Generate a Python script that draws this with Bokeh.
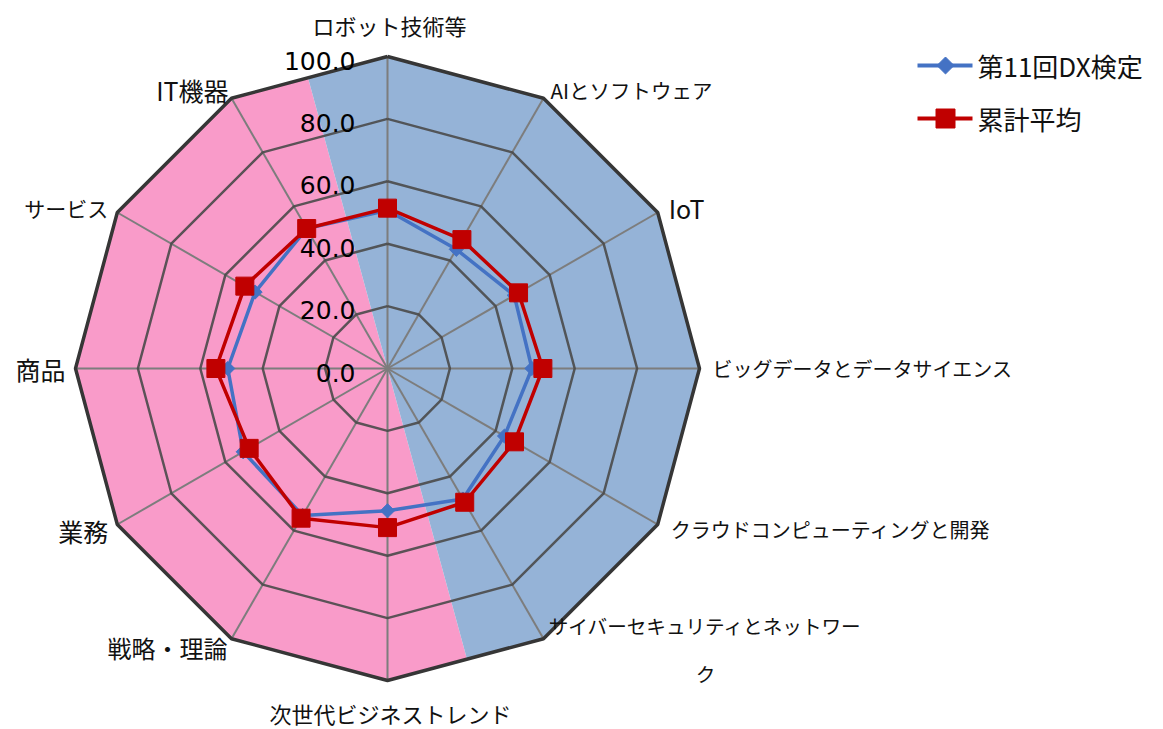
import math
from bokeh.plotting import figure
from bokeh.models import Range1d, ColumnDataSource
from bokeh.core.properties import value
from bokeh.embed import file_html
from bokeh.resources import INLINE

# ---------------- data ----------------
categories = ["ロボット技術等", "AIとソフトウェア", "IoT", "ビッグデータとデータサイエンス",
              "クラウドコンピューティングと開発", "サイバーセキュリティとネットワーク",
              "次世代ビジネストレンド", "戦略・理論", "業務", "商品", "サービス", "IT機器"]
series_names = ["第11回DX検定", "累計平均"]
dx11 = [50.7, 44.1, 46.9, 46.3, 43.3, 48.3, 45.6, 54.4, 53.4, 51.2, 49.0, 51.8]
cumulative_avg = [51.4, 47.7, 48.5, 49.8, 47.0, 49.5, 51.0, 55.4, 51.2, 55.0, 52.8, 51.8]
ticks = [0, 20, 40, 60, 80, 100]
tick_labels = ["0.0", "20.0", "40.0", "60.0", "80.0", "100.0"]

# ---------------- layout ----------------
W, H = 1163, 729
CX, CY = 387, 368          # pixel centre of radar
S = 3.12                   # pixels per data unit (radius 100 -> 312 px)
RMAX = 100
N = len(categories)

p = figure(width=W, height=H, output_backend="svg", toolbar_location=None,
           x_range=Range1d(-CX / S, (W - CX) / S), y_range=Range1d(-(H - CY) / S, CY / S),
           min_border=0, x_axis_location=None, y_axis_location=None)
p.grid.visible = False
p.outline_line_color = None
p.background_fill_color = "white"
p.border_fill_color = "white"


def ang(i):
    return math.pi / 2 - 2 * math.pi * i / N


def pt(i, r):
    a = ang(i)
    return r * math.cos(a), r * math.sin(a)


def px(xp, yp):
    return (xp - CX) / S, (CY - yp) / S


# ---------------- background split (pink / blue) ----------------
outer = [pt(i, RMAX) for i in range(N)]
split_deg = 15.3
d = (math.cos(math.radians(90 + split_deg)), math.sin(math.radians(90 + split_deg)))
nvec = (d[1], -d[0])


def clip(poly, n):
    out = []
    for k in range(len(poly)):
        a = poly[k]
        b = poly[(k + 1) % len(poly)]
        da = n[0] * a[0] + n[1] * a[1]
        db = n[0] * b[0] + n[1] * b[1]
        if da >= 0:
            out.append(a)
        if (da >= 0) != (db >= 0):
            t = da / (da - db)
            out.append((a[0] + t * (b[0] - a[0]), a[1] + t * (b[1] - a[1])))
    return out


blue_poly = clip(outer, nvec)
pink_poly = clip(outer, (-nvec[0], -nvec[1]))
p.patch([q[0] for q in pink_poly], [q[1] for q in pink_poly], fill_color="#F99BC9", line_color=None)
p.patch([q[0] for q in blue_poly], [q[1] for q in blue_poly], fill_color="#95B3D7", line_color=None)

# ---------------- grid ----------------
spoke_xs, spoke_ys = [], []
for i in range(N):
    x1, y1 = pt(i, RMAX)
    spoke_xs.append([0, x1])
    spoke_ys.append([0, y1])
p.multi_line(spoke_xs, spoke_ys, line_color="#7d7d7d", line_width=2)

ring_xs, ring_ys = [], []
for t in ticks[1:-1]:
    pts = [pt(i, t) for i in range(N)] + [pt(0, t)]
    ring_xs.append([q[0] for q in pts])
    ring_ys.append([q[1] for q in pts])
p.multi_line(ring_xs, ring_ys, line_color="#4a4a4a", line_width=2.5, line_alpha=0.9)
opts = [pt(i, RMAX) for i in range(N)] + [pt(0, RMAX)]
p.line([q[0] for q in opts], [q[1] for q in opts], line_color="#363636", line_width=3.5)

# tick labels
p.text(x=[0] * len(ticks), y=ticks, text=tick_labels, text_align="right", text_baseline="middle",
       x_offset=-32, y_offset=4, text_font=value("DejaVu Sans"), text_font_size="25px",
       text_color="#000000")

# ---------------- category labels ----------------
lab_x_off = [2, 7, 11, 13, 13, 162, 3, -4, -9, -10, -9, -3]
lab_y_off = [-32, -8, -5, 0, 5, 11, 32, 9, 6, 0, -5, -8]
lab_size = ["22px", "20.5px", "25px", "20px", "20px", "19.6px", "22px",
            "24px", "25px", "25px", "21px", "25px"]
lab_align = ["center", "left", "left", "left", "left", "center", "center",
             "right", "right", "right", "right", "right"]
lx, ly, lt, la, lxo, lyo, ls = [], [], [], [], [], [], []
for i, c in enumerate(categories):
    if i == 5:
        continue
    x0, y0 = pt(i, RMAX)
    lx.append(x0); ly.append(y0); lt.append(c); la.append(lab_align[i])
    lxo.append(lab_x_off[i]); lyo.append(lab_y_off[i]); ls.append(lab_size[i])
src_lab = ColumnDataSource(dict(x=lx, y=ly, text=lt, align=la, xo=lxo, yo=lyo, fs=ls))
p.text(x="x", y="y", text="text", text_align="align", text_baseline="middle",
       x_offset="xo", y_offset="yo", text_font_size="fs", source=src_lab,
       text_font=value("Noto Sans CJK JP"), text_color="#111111")
# wrapped label (long name)
x5, y5 = pt(5, RMAX)
wrapped = categories[5][:-1] + "\n" + categories[5][-1]
p.text(x=[x5], y=[y5], text=[wrapped], text_align="center", text_baseline="top",
       x_offset=lab_x_off[5], y_offset=-28, text_line_height=1.65,
       text_font=value("Noto Sans CJK JP"), text_font_size=lab_size[5], text_color="#111111")

# ---------------- series ----------------
BLUE = "#4472C4"
RED = "#C00000"


def closed(vals):
    xs = [pt(i, v)[0] for i, v in enumerate(vals)]
    ys = [pt(i, v)[1] for i, v in enumerate(vals)]
    return xs, ys


bx, by = closed(dx11)
p.line(bx + [bx[0]], by + [by[0]], line_color=BLUE, line_width=3.5)
p.scatter(bx, by, marker="square", angle=math.pi / 4, size=10, fill_color=BLUE, line_color=BLUE)

rx, ry = closed(cumulative_avg)
p.line(rx + [rx[0]], ry + [ry[0]], line_color=RED, line_width=3.5)
p.scatter(rx, ry, marker="square", size=18, fill_color=RED, line_color=RED)

# ---------------- legend ----------------
leg_y = [65, 118]
leg_col = [BLUE, RED]
for k, name in enumerate(series_names):
    xa, ya = px(917, leg_y[k])
    xb, _ = px(972, leg_y[k])
    xm, _ = px(945, leg_y[k])
    xt, _ = px(977, leg_y[k])
    p.line([xa, xb], [ya, ya], line_color=leg_col[k], line_width=4)
    if k == 0:
        p.scatter([xm], [ya], marker="square", angle=math.pi / 4, size=12,
                  fill_color=BLUE, line_color=BLUE)
    else:
        p.scatter([xm], [ya], marker="square", size=19, fill_color=RED, line_color=RED)
    p.text(x=[xt], y=[ya], text=[name], text_align="left", text_baseline="middle",
           text_font=value("Noto Sans CJK JP"), text_font_size="26px", text_color="#111111")

open("out.html", "w").write(file_html(p, INLINE))
